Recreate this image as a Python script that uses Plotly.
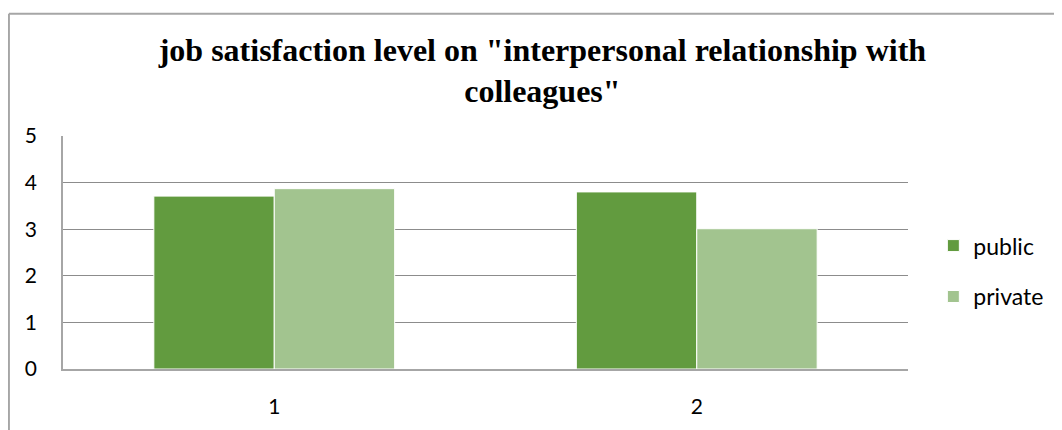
import plotly.graph_objects as go

categories = ["1", "2"]
public = [3.71, 3.80]
private = [3.87, 3.01]

fig = go.Figure()
fig.add_trace(go.Bar(x=categories, y=public, name="public",
                     marker=dict(color="#629B3F", line=dict(color="white", width=1)),
                     legendgroup="a"))
fig.add_trace(go.Bar(x=categories, y=private, name="private",
                     marker=dict(color="#A2C48F", line=dict(color="white", width=1)),
                     legendgroup="b"))

# outer chart frame (Excel-style): top and left edges visible
frame = dict(color="#A6A6A6", width=2)
fig.add_shape(type="line", xref="paper", yref="paper",
              x0=-0.064, x1=1.3, y0=1.525, y1=1.525, line=frame)
fig.add_shape(type="line", xref="paper", yref="paper",
              x0=-0.064, x1=-0.064, y0=-0.5, y1=1.525, line=frame)

fig.update_layout(
    width=1054, height=422,
    margin=dict(l=55, r=154, t=128, b=57),
    paper_bgcolor="white", plot_bgcolor="white",
    barmode="group", bargap=0.43, bargroupgap=0,
    title=dict(
        text='job satisfaction level on "interpersonal relationship with<br>colleagues"',
        x=0.507, xanchor="center", xref="container",
        y=0.875, yanchor="top", yref="container",
        font=dict(family="Liberation Serif", size=32, color="black", weight="bold"),
    ),
    font=dict(family="Lato", size=21, color="black"),
    legend=dict(x=1.03, xanchor="left", y=0.42, yanchor="middle",
                traceorder="grouped", tracegroupgap=18,
                font=dict(family="Lato", size=23)),
    xaxis=dict(type="category", showline=True, linecolor="#A6A6A6", linewidth=1.5,
               ticks="", ticklabelstandoff=18),
    yaxis=dict(range=[0, 5], dtick=1, showgrid=True, gridcolor="#8C8C8C", gridwidth=1,
               showline=True, linecolor="#A6A6A6", linewidth=1.5,
               zeroline=False, ticks="", ticklabelstandoff=20),
)

fig.write_html("out.html")
